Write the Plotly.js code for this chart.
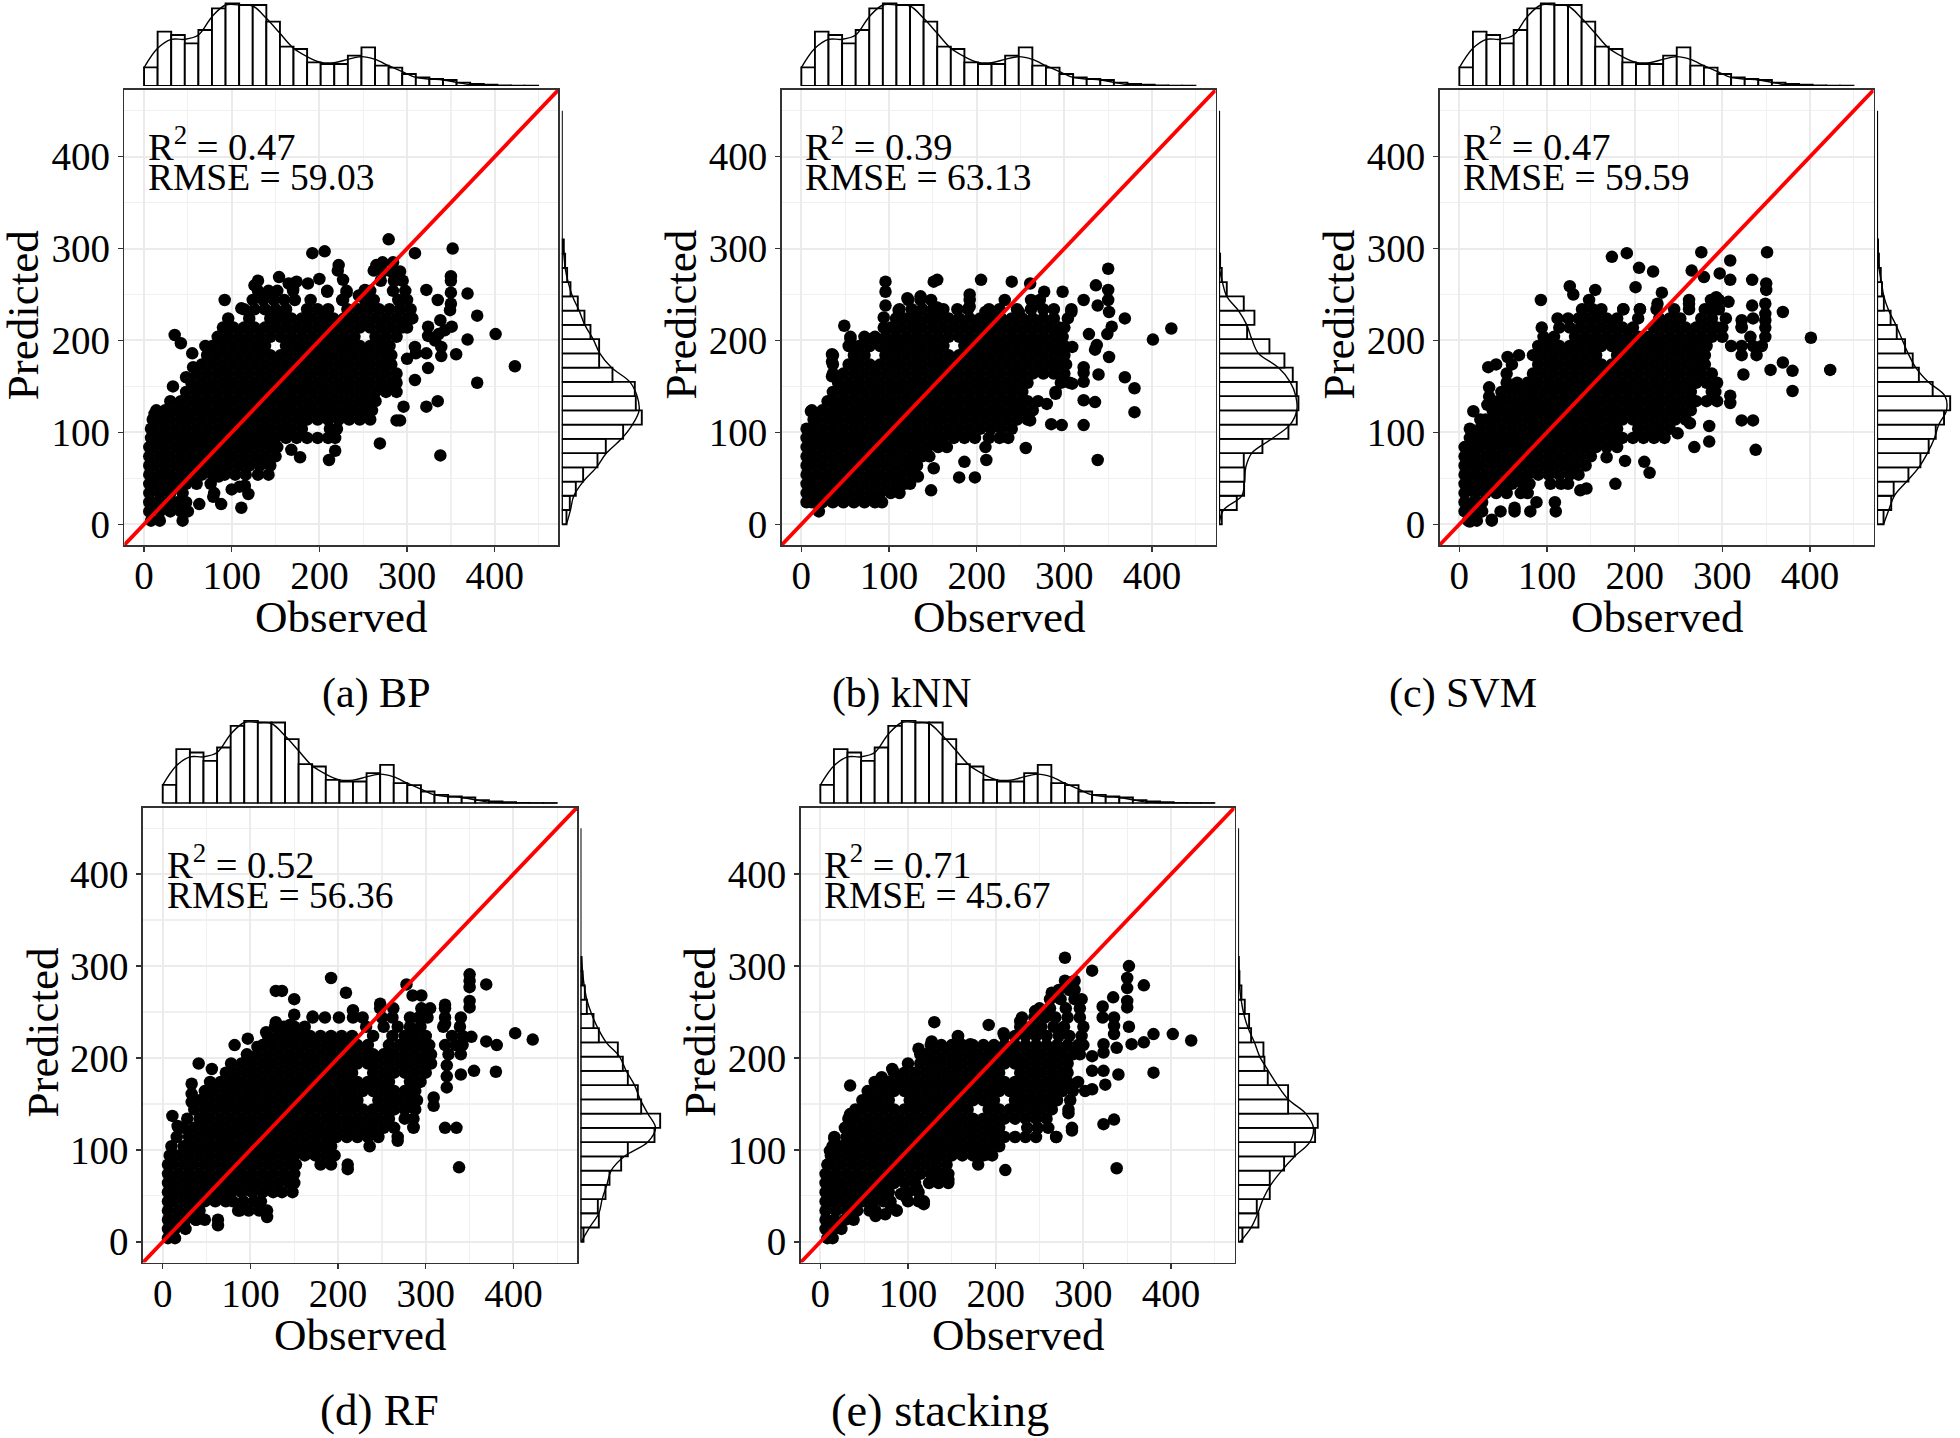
<!DOCTYPE html>
<html><head><meta charset="utf-8">
<script src="https://cdn.plot.ly/plotly-3.0.1.min.js"></script>
<style>html,body{margin:0;padding:0;background:#fff}#c{width:1960px;height:1438px}</style></head>
<body><div id="c"></div>
<script>
// Each row: predicted value, then the observed values read at that predicted level
const rowsA=[
[4,8,18,44],[14,6,18,30,42,50],[24,6,14,26,38,48],[34,6,18,30,44,80],[44,6,12,24,36,48,60,76],
[54,6,18,30,42,54,66,78,92,104,116,130,142],
[64,6,12,24,36,48,60,72,84,96,108,120,132,144],
[74,6,18,30,42,54,66,78,90,102,114,126,138,150],
[84,6,12,24,36,48,60,72,84,96,108,120,132,144,152],
[94,8,18,30,42,54,66,78,90,102,114,126,138,150,162,174,186,198,210,218],
[104,8,12,24,36,48,60,72,84,96,108,120,132,144,156,168,180,212,220],
[114,10,18,30,42,54,66,78,90,102,114,126,138,150,162,174,186,198,210,222,234,246,258],
[124,14,24,36,48,60,72,84,96,108,120,132,144,156,168,180,192,204,216,228,240,252,260],
[134,30,42,54,66,78,90,102,114,126,138,150,162,174,186,198,210,222,234,246,258,264],
[144,48,60,72,84,96,108,120,132,144,156,168,180,192,204,216,228,240,252,264,276,288],
[154,54,66,78,90,102,114,126,138,150,162,174,186,198,210,222,234,246,258,270,282,288],
[164,60,72,84,96,108,120,132,144,156,168,180,192,204,216,228,240,252,264,276,288],
[174,66,78,90,102,114,126,138,150,162,174,186,198,210,222,234,246,258,270,282],
[184,72,84,96,108,120,132,144,156,168,180,192,204,216,228,240,252,264,276,282],
[194,78,90,102,114,126,138,162,174,186,198,210,222,234,246,258,270,280],
[204,84,96,108,120,132,144,156,168,180,192,204,216,228,240,264,276,288],
[214,90,102,114,126,138,150,162,174,186,198,210,222,234,246,258,270,282,294,300],
[224,96,120,144,156,168,180,192,204,216,228,240,252,264,276,288,300,306],
[234,114,126,138,150,162,186,198,210,232,244,256,268,280,292,304],
[244,124,136,148,160,172,190,226,252,262,290,300],
[254,130,142,152,170,209,231,252,258,284,298],
[18,111],[22,88,63],[42,115],[33,119],[41,109],[52,85],[30,79],[38,100],[73,178],[81,168],[70,211],[80,218],[88,269],[75,338],[113,288,292],[128,296,322],[134,335],[154,380],[157,309],[170,324],[172,423],[185,356],[180,300],[186,310,322],[193,309,339],[183,339],[200,332],[207,336,401],[205,324],[215,324,351],[211,343],[222,338],[233,349],[240,350],[252,350],[265,350,130],[270,350],[300,352],[255,322],[244,335,92,227],[251,369],[227,380],[201,369],
[150,33],[160,48],[171,56],[186,55],[194,70],[197,42],[206,35],[120,12],[235,111],[260,126],[269,154],[262,165,187],[264,174],[256,170],[267,200],[295,192,309],[297,206],[282,222,265],[276,221,262],[266,227],[253,209],[252,231],[255,252],[249,245],[310,279],[275,272,282,292],[265,270,285,295],[285,272,284]];

const rowsB=[
[14,20],[24,6,12,24,36,48,60,72,84,92],[34,6,18,30,42,54,66,78,90,102,112],
[44,6,12,24,36,48,60,72,84,96,108,118,124],
[54,6,18,30,42,54,66,78,90,102,114,126],
[64,6,12,24,36,48,60,72,84,96,108,120,132],
[74,6,18,30,42,54,66,78,90,102,114,126,138,146],
[84,6,12,24,36,48,60,72,84,96,108,120,132,144,156,166],
[94,6,18,30,42,54,66,78,90,102,114,126,138,150,162,174,186,198,214,226,236],
[104,6,12,24,36,48,60,72,84,96,108,120,132,144,156,168,180,192,204,216,228,240],
[114,14,18,30,42,54,66,78,90,102,114,126,138,150,162,174,186,198,210,222,234,246,258],
[124,12,24,36,48,60,72,84,96,108,120,132,144,156,168,180,192,204,216,228,240,252,264],
[134,30,42,54,66,78,90,102,114,126,138,150,162,174,186,198,210,222,234,246,258,270],
[144,36,48,60,72,84,96,108,120,132,144,156,168,180,192,204,216,228,240,252,290],
[154,42,54,66,78,90,102,114,126,138,150,162,174,186,198,210,222,234,246,258,296,306],
[164,36,48,60,72,84,96,108,120,132,144,156,168,180,192,204,216,228,240,252,264,276,288,300],
[174,36,54,66,78,90,102,114,126,138,150,162,174,186,198,210,222,234,246,258,270,282,294,302],
[184,36,60,72,96,108,120,132,144,156,168,180,192,204,216,228,240,252,264,276,288,300],
[194,54,66,78,90,102,114,126,138,150,162,186,198,210,222,234,246,258,270,282,294,300],
[204,56,72,84,96,108,120,132,144,156,168,180,192,204,216,228,240,252,264,276,288,298],
[214,94,102,114,126,138,150,162,174,186,198,210,222,234,246,258,270,282,294,300],
[224,108,120,132,144,156,168,180,192,204,216,228,240,252,264,276,288,304],
[234,112,126,138,150,162,178,190,214,226,246,262,276,288,308],
[244,122,136,148,192,232,262,272],
[225,94],[238,96],[253,96],[264,96],[264,151,240],[266,155,205],[262,261],[278,350],[260,336],[255,350],[244,322,350],[238,338],[231,351],[224,369],[253,298,277],[213,422],[201,401],[215,354],[182,351],[195,337],[190,335],[163,339],[160,369],[148,380],[122,380],[171,322],[165,322],[155,322],[135,322],[133,335],[108,322,297],[109,285],[70,338,211],[83,256],[68,186],[51,180,198],[37,148],[61,151],[52,133],[63,121],[207,328,349],[193,309],[153,309],[142,290],[131,280],[113,261],[84,210],[216,49],[202,56,81],[161,35],[177,35],[185,35],[123,11],[250,192],[237,192],[248,136],[246,121],[236,155],[233,111],[231,210,222,248,308],[240,267]];

const rowsC=[
[4,10,20,37],[14,6,16,26,47,63,81,110],[24,6,16,26,88,109],[34,6,18,30,42,54,70,78],
[44,6,12,24,36,48,60,72,80,104,116,124],
[54,6,18,30,42,54,66,78,90,102,114,126,136],
[64,6,12,24,36,48,60,72,84,96,108,120,132,144],
[74,6,18,30,42,54,66,78,90,102,114,126,138,150],
[84,6,12,24,36,48,60,72,84,96,108,120,132,144,156,168,180],
[94,12,18,30,42,54,66,78,90,102,114,126,138,150,162,174,186,198,210,222,234],
[104,12,24,36,48,60,72,84,96,108,120,132,144,156,168,180,204,216,228,240],
[114,24,30,42,54,66,78,90,102,114,126,138,150,162,174,186,198,210,222,234,246,258],
[124,38,48,60,72,84,96,108,120,132,144,156,168,180,192,204,216,228,240,252,264],
[134,44,54,66,78,90,102,114,126,138,150,162,174,186,198,210,222,234,246,258,270,282,294],
[144,48,60,72,84,96,108,120,132,144,156,168,180,192,204,216,228,240,252,264,288,292],
[154,54,66,78,90,102,114,126,138,150,162,174,186,198,210,222,234,246,258,270,282,294],
[164,54,84,96,108,120,132,144,156,168,180,192,204,216,228,240,252,264,276,288],
[174,60,90,102,114,126,138,150,162,174,186,198,210,222,234,246,258,270,280],
[184,84,96,108,120,132,144,156,180,192,204,216,228,240,252,264,276,280,322,339],
[194,90,102,114,126,138,150,162,174,186,198,210,222,234,246,258,270,282,310,322,335,345],
[204,96,108,132,144,156,168,180,192,204,216,228,240,252,264,276,288,300,332,349],
[214,94,114,126,138,150,162,174,186,198,222,234,246,258,270,282,294,300,322,349],
[224,112,124,136,144,156,168,180,204,228,240,252,276,288,304],
[234,140,152,162,187,206,225,245,262,280,290,296],
[244,148,262,287,296],
[3,12],[5,37],[37,138],[39,145],[44,178],[56,217],[68,211],[69,189],[73,168],[81,338],[84,268],[90,285],[99,249],[110,263],[107,285],[113,322,335],[140,309],[132,309],[145,380],[168,423,355],[167,380],[176,369],[163,324],[203,401],[231,369],[262,350],[255,350,155],[296,351,276],[266,334,309],[287,309],[273,297],[242,307],[238,334],[222,322,349],[215,322],[224,335],[240,349,226,262],[229,349],[291,174],[295,191],[279,205],[275,221],[258,201],[244,93],[259,126],[250,130],[234,206,187],[252,231],[247,293],[276,265],[269,279],[171,33],[174,42],[182,55],[184,68],[149,34],[139,34],[130,32],[123,16],[18,63]];

const rowsD=[
[4,6,14],[14,6,14,26],[24,6,14,26,38,48,63],[34,6,18,30,42,86,98,110,119],
[44,6,12,24,36,48,60,72,80,92,104,112],
[54,6,18,30,42,54,66,78,90,102,114,126,136,148],
[64,6,12,24,36,48,60,72,84,96,108,120,132,144,150],
[74,6,18,30,42,54,66,78,90,102,114,126,138,150],
[84,6,12,24,36,48,60,72,84,96,108,120,132,144,152,180,192,211],
[94,8,18,30,42,54,66,78,90,102,114,126,138,150,162,174,186,196],
[104,10,24,36,48,60,72,84,96,108,120,132,144,156,168,180,192,236],
[114,16,30,42,54,66,78,90,102,114,126,138,150,162,174,186,198,210,222,234,246,268],
[124,18,24,36,48,60,72,84,96,108,120,132,144,156,168,180,192,204,216,228,240,252,264,286,322,335],
[134,28,42,54,66,78,90,102,114,126,138,150,162,174,186,198,210,222,234,246,258,276,286],
[144,36,48,60,72,84,96,108,120,132,144,156,168,180,192,204,216,228,240,252,264,276,288],
[154,42,54,66,78,90,102,114,126,138,150,162,174,186,198,210,222,246,258,270,282,290],
[164,48,60,72,84,96,108,120,132,144,156,168,180,192,204,216,228,240,252,264,276,288],
[174,54,66,78,90,102,114,126,138,150,162,174,186,198,210,222,234,246,258,282,294],
[184,72,84,96,108,120,132,144,156,168,180,192,204,216,240,252,264,276,288,300],
[194,78,90,102,114,126,138,150,162,174,186,198,210,222,234,246,258,270,282,294,306],
[204,96,108,120,132,144,156,168,180,192,204,216,228,240,252,264,276,288,300,306,326,340],
[214,114,126,138,150,162,174,186,198,210,222,234,258,270,282,294,304,322,334,342],
[224,120,132,144,156,168,180,192,204,216,240,262,276,288,300,330,342],
[234,128,138,150,162,232,252,268,282,294,320,339],
[244,171,185,201,217,228,250,262,282,292,302,322,340],
[254,248,263,295,305,322],
[18,63],[24,38],[27,119],[34,88],[79,211],[81,338],[110,268],[157,309],[148,309],[185,380],[186,355],[182,340],[220,422],[227,402],[218,369],[214,381],[223,352],[280,369,278],[291,350],[284,350],[277,350],[262,350],[255,350],[258,322],[237,322],[287,192],[271,209],[273,129,136],[264,150],[247,150],[192,324],[180,324],[168,324],[125,286],[137,11],[126,17],[172,33],[161,33],[152,33],[194,41],[188,56],[214,82],[221,97],[212,108],[228,118],[239,129],[236,145],[245,171],[252,217],[259,248],[268,295,285]];

const rowsE=[
[4,8,14],[14,6,16,24],[24,6,16,28,38],[34,6,18,30,42,56,63,87],
[44,6,12,24,36,48,60,72,80,100,112,118],
[54,6,18,30,42,54,66,78,100,112],
[64,6,12,24,36,48,60,72,84,96,108,124,135,146],
[74,6,18,30,42,54,66,78,90,102,114,126,136,146],
[84,8,12,24,36,48,60,72,84,96,108,120,132,144,180],
[94,12,18,30,42,54,66,78,90,102,114,126,138,150,162,174,186,196],
[104,14,24,36,48,60,72,84,96,108,120,132,144,156,168,180,192,204],
[114,16,30,42,54,66,78,90,102,114,126,138,150,162,174,186,198,210,222,234,246,269],
[124,28,36,48,60,72,84,96,108,120,132,144,156,168,180,192,204,236,248,260,287],
[134,32,42,54,66,78,90,102,114,126,138,150,162,174,186,198,210,222,234,246,258],
[144,40,48,60,72,84,96,108,120,132,144,156,168,192,204,216,228,240,252,264,283],
[154,48,54,66,78,102,114,126,138,150,162,174,186,198,222,234,246,258,270,285],
[164,54,60,72,84,96,108,120,132,144,156,168,180,192,204,216,228,240,252,264,276,288,302],
[174,62,66,78,90,102,114,126,138,150,162,174,186,198,210,222,234,246,258,270,282,294],
[184,84,96,108,120,132,144,156,168,180,192,204,228,240,252,264,276,282],
[194,100,114,126,138,150,162,174,186,198,210,222,234,246,258,270,282],
[204,114,120,132,144,156,168,180,192,204,216,228,240,252,264,276,288,296],
[214,126,138,150,162,174,186,198,210,222,234,246,258,270,282,294,300],
[224,157,210,222,234,246,258,272,284,298],
[234,228,240,252,266,278,300],[244,230,244,256,268,282,296],[254,250,262,280,296],[264,262,274,290,298],[274,272,284,290],[284,279,290],
[28,63],[34,87],[41,118],[30,74],[40,80],[52,92],[48,98],[58,110],[68,146],[66,135],[78,211],[80,338],[95,190],[92,180],[114,269],[121,287],[128,323],[133,335],[140,283],[166,310],[171,325],[182,340],[184,380],[186,310,323],[202,310],[206,323],[211,338],[215,323,355],[217,369],[219,423],[226,380,402],[234,352],[226,335],[235,335],[244,335,322],[256,322],[266,334],[262,350],[255,350],[276,350],[287,350],[279,369],[300,352],[295,310],[309,279],[271,264],[251,245],[240,228],[227,209],[236,192],[215,171],[223,157],[239,130],[218,127],[210,112],[188,82],[179,70],[170,34],[139,34],[112,16],[99,11]];

// Shared observed histogram and density, heights read from the top strips
const topHist=[56,163,153,128,168,233,248,243,243,193,118,111,71,66,66,91,116,61,55,36,26,21,18,10,6,4,2,1,1];
const topDensity=[55,113,140,140,153,208,243,243,240,203,158,113,88,71,70,80,88,80,61,43,26,21,18,11,4,2,1,1,0,0];
// Predicted histograms and densities, bins going upward from zero
const sideHistA=[14,24,42,64,107,132,184,240,222,219,152,112,112,86,68,48,26,16,10,6];
const sideDensA=[14,26,36,64,104,134,179,212,232,226,204,149,114,94,69,52,32,19,10,6,2];
const sideHistB=[8,53,75,76,74,130,208,233,238,233,221,196,151,84,106,74,23,8,3];
const sideDensB=[0,13,68,76,80,98,158,213,233,230,213,178,118,98,83,58,23,10,1,0];
const sideHistC=[21,46,54,102,141,168,191,218,238,181,136,116,91,64,44,22,16,12,6,3];
const sideDensC=[21,38,56,96,136,164,186,201,226,221,166,126,101,81,61,38,22,14,6,2,1];
const sideHistD=[9,55,52,75,87,122,142,222,239,182,172,142,127,112,55,39,19,13,6,3];
const sideDensD=[2,27,55,65,79,92,132,202,225,202,179,162,137,117,77,52,33,19,11,6,3];
const sideHistE=[13,61,56,95,95,138,170,231,239,150,150,89,79,76,39,33,20,10,4,2];
const sideDensE=[6,39,59,75,98,131,170,215,226,203,150,118,91,65,49,30,17,9,4,2,1];

const panelNames=['(a) BP','(b) kNN','(c) SVM','(d) RF','(e) stacking'];
const r2Labels=['0.47','0.39','0.47','0.52','0.71'];
const rmseLabels=['59.03','63.13','59.59','56.36','45.67'];
const captionX=[376,901,1463,379,940];
const captionSize=[42,41.5,42,45,46.5];
const axisTicks=[0,100,200,300,400];
const panelRows=[rowsA,rowsB,rowsC,rowsD,rowsE];
const sideHists=[sideHistA,sideHistB,sideHistC,sideHistD,sideHistE];
const sideDens=[sideDensA,sideDensB,sideDensC,sideDensD,sideDensE];

const W=1960,H=1438,BIN=15.5,FONT='"Liberation Serif","Times New Roman",serif';
const lefts=[124.3,781.6,1439.6,143,800.6],tops=[90,90,90,807.5,807.5],PW=434,PH=455;
const RANGE=[-22.5,472.5];
const fx=(a,b)=>[a/W,b/W],fy=(a,b)=>[1-b/H,1-a/H];
const binC=a=>a.map((_,i)=>BIN*(i+.5)),binE=a=>a.map((_,i)=>BIN*i);
const traces=[],layout={width:W,height:H,margin:{l:0,r:0,t:0,b:0},paper_bgcolor:'#fff',plot_bgcolor:'#fff',showlegend:false,bargap:0,annotations:[],font:{family:FONT,color:'#000'}};

panelRows.forEach((rows,p)=>{
  const a=p*3+1,b=a+1,c=a+2,L=lefts[p],T=tops[p];
  const xs=[],ys=[];
  rows.forEach(r=>r.slice(1).forEach(v=>{xs.push(v);ys.push(r[0]);}));
  const mx='x'+a,my='y'+a;
  traces.push({type:'scatter',mode:'markers',x:xs,y:ys,xaxis:mx,yaxis:my,marker:{color:'#000',size:12.5,line:{width:0}}});
  traces.push({type:'scatter',mode:'lines',x:RANGE,y:RANGE,xaxis:mx,yaxis:my,line:{color:'#f00',width:3.8}});
  const ax={domain:fx(L,L+PW),range:RANGE,anchor:my,tickvals:axisTicks,showline:true,mirror:true,linecolor:'#333',linewidth:1.6,ticks:'outside',ticklen:5,tickcolor:'#333',tickwidth:1.4,tickfont:{family:FONT,size:39,color:'#000'},gridcolor:'#ebebeb',gridwidth:2,zeroline:false,minor:{tickvals:[50,150,250,350,450],showgrid:true,gridcolor:'#f0f0f0',gridwidth:1.2,ticks:''}};
  layout['xaxis'+a]={...ax,ticklabelstandoff:-9};
  layout['yaxis'+a]={...ax,domain:fy(T,T+PH),anchor:mx};
  // top histogram
  traces.push({type:'bar',x:binC(topHist),y:topHist,width:BIN,xaxis:'x'+b,yaxis:'y'+b,marker:{color:'#fff',line:{color:'#000',width:1.9}}});
  traces.push({type:'scatter',mode:'lines',x:binE(topDensity),y:topDensity,xaxis:'x'+b,yaxis:'y'+b,line:{color:'#000',width:1.4,shape:'spline'}});
  traces.push({type:'scatter',mode:'lines',x:[0,450],y:[0,0],xaxis:'x'+b,yaxis:'y'+b,line:{color:'#000',width:2},cliponaxis:false});
  layout['xaxis'+b]={domain:fx(L,L+PW),range:RANGE,anchor:'y'+b,visible:false};
  layout['yaxis'+b]={domain:fy(T-88,T-4),range:[0,252],anchor:'x'+b,visible:false};
  // side histogram
  const h=sideHists[p],d=sideDens[p];
  traces.push({type:'bar',orientation:'h',y:binC(h),x:h,width:BIN,xaxis:'x'+c,yaxis:'y'+c,marker:{color:'#fff',line:{color:'#000',width:1.9}}});
  traces.push({type:'scatter',mode:'lines',y:binE(d),x:d,xaxis:'x'+c,yaxis:'y'+c,line:{color:'#000',width:1.4,shape:'spline'}});
  traces.push({type:'scatter',mode:'lines',y:[0,450],x:[0,0],xaxis:'x'+c,yaxis:'y'+c,line:{color:'#000',width:2},cliponaxis:false});
  layout['xaxis'+c]={domain:fx(L+PW+3.5,L+PW+93.5),range:[0,270],anchor:'y'+c,visible:false};
  layout['yaxis'+c]={domain:fy(T,T+PH),range:RANGE,anchor:'x'+c,visible:false};
  const note=(text,px,py,size)=>layout.annotations.push({text,xref:'paper',yref:'paper',x:px/W,y:1-py/H,xanchor:'left',yanchor:'middle',showarrow:false,font:{family:FONT,size,color:'#000'}});
  note('R<sup>2</sup> = '+r2Labels[p],L+21.5,T+54,38.5);
  note('RMSE = '+rmseLabels[p],L+21.5,T+87.5,37.5);
  const centered=(text,px,py,size,angle)=>layout.annotations.push({text,xref:'paper',yref:'paper',x:px/W,y:1-py/H,xanchor:'center',yanchor:'middle',textangle:angle,showarrow:false,font:{family:FONT,size,color:'#000'}});
  centered('Observed',L+PW/2,T+527,45,0);
  centered('Predicted',L-101,T+225,45,-90);
  centered(panelNames[p],captionX[p],p<3?693:1410,captionSize[p],0);
});
Plotly.newPlot('c',traces,layout,{staticPlot:true,displayModeBar:false});
</script></body></html>
